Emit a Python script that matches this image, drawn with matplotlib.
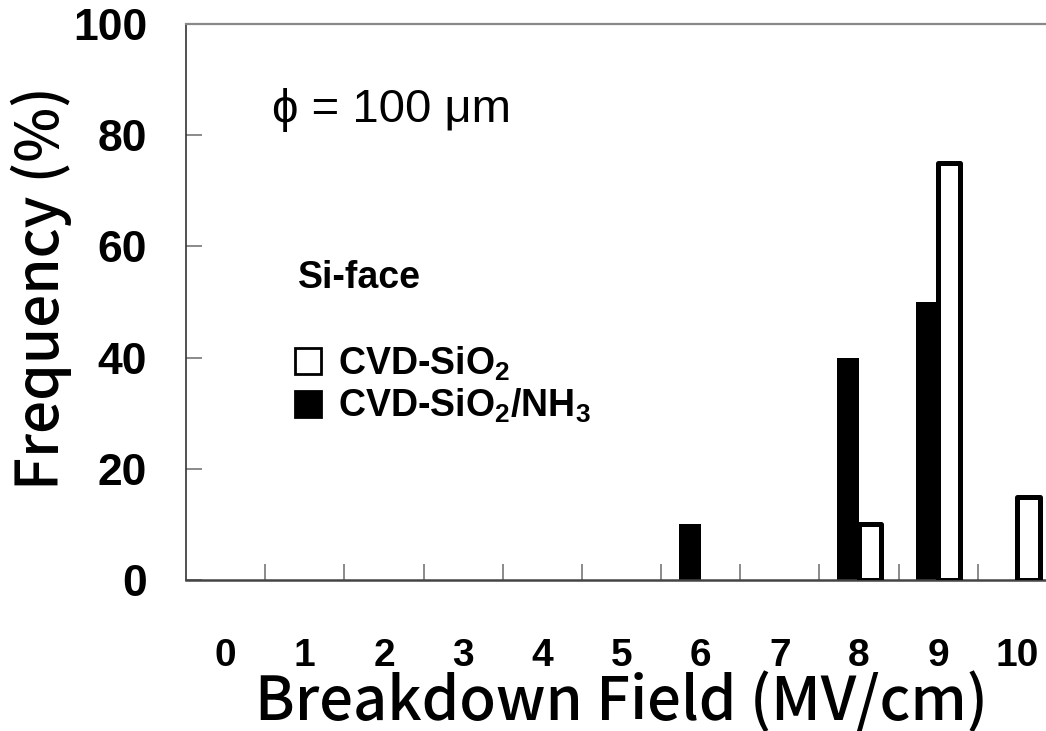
#!/usr/bin/env python3
"""Breakdown field distribution for CVD oxides on the Si-face."""
import numpy as np
import matplotlib
matplotlib.use("Agg")
import matplotlib.pyplot as plt
from matplotlib.patches import Patch

# field bins (MV/cm) and frequency (%) of each oxide
fields = ['0', '1', '2', '3', '4', '5', '6', '7', '8', '9', '10']
cvd_sio2 = [0, 0, 0, 0, 0, 0, 0, 0, 10, 75, 15]
cvd_sio2_nh3 = [0, 0, 0, 0, 0, 0, 10, 0, 40, 50, 0]
y_ticks = [0, 20, 40, 60, 80, 100]

plt.rcParams['mathtext.fontset'] = 'custom'
plt.rcParams['mathtext.rm'] = 'Liberation Sans:bold'
plt.rcParams['mathtext.bf'] = 'Liberation Sans:bold'

fig = plt.figure(figsize=(10.46, 7.31), dpi=100)
W, H = 1046, 731
# the plot area runs a little past the right edge of the picture
ax = fig.add_axes([186 / W, (H - 580) / H, 871 / W, 556 / H])

x = np.arange(len(fields))
bw = 0.28
# only draw the non-zero bars so the baseline stays clean
nh3 = np.array(cvd_sio2_nh3, dtype=float)
ox = np.array(cvd_sio2, dtype=float)
m1 = nh3 > 0
m2 = ox > 0
ax.bar(x[m1] - bw / 2, nh3[m1], bw, color='black', zorder=2)
bars = ax.bar(x[m2] + bw / 2, ox[m2], bw, facecolor='white',
              edgecolor='black', linewidth=3.6, zorder=3)
for b in bars:
    b.set_joinstyle('round')

ax.set_xlim(-0.5, len(fields) - 0.5)
ax.set_ylim(0, 100)

# category labels in the middle, tick marks on the bin boundaries
ax.set_xticks(x)
ax.set_xticklabels(fields, family='Liberation Sans',
                   fontweight='bold', fontsize=28)
ax.set_xticks(x[:-1] + 0.5, minor=True)
ax.tick_params(axis='x', which='major', length=0, pad=42)
ax.tick_params(axis='x', which='minor', direction='in', length=11.5,
               width=1.2, color='#777777')

ax.set_yticks(y_ticks)
ax.set_yticklabels([str(v) for v in y_ticks], family='Liberation Sans',
                   fontweight='bold', fontsize=32)
ax.tick_params(axis='y', direction='in', length=11.5, width=1.2,
               color='#777777', pad=28)

ax.spines['right'].set_visible(False)
ax.spines['top'].set_color('#888888')
ax.spines['top'].set_linewidth(1.6)
ax.spines['left'].set_color('#333333')
ax.spines['left'].set_linewidth(1.2)
ax.spines['bottom'].set_color('#444444')
ax.spines['bottom'].set_linewidth(1.8)

ax.set_xlabel('Breakdown Field (MV/cm)', family='Noto Sans CJK JP',
              fontweight='medium', fontsize=43)
ax.set_ylabel('Frequency (%)', family='Noto Sans CJK JP',
              fontweight='medium', fontsize=42)
ax.xaxis.set_label_coords(0.5, -0.164)
ax.yaxis.set_label_coords(-0.131, 0.525)

ax.text(0.586, 84.5, '\u03d5 = 100 \u03bcm',
        family=['Liberation Sans', 'DejaVu Sans'],
        fontsize=34, va='center', ha='left')
ax.text(0.914, 54.3, 'Si-face', family='Liberation Sans', fontweight='bold',
        fontsize=27, va='center', ha='left')

handles = [Patch(facecolor='white', edgecolor='black', linewidth=2),
           Patch(facecolor='black', edgecolor='black', linewidth=2)]
labels = ['CVD-SiO$_2$', 'CVD-SiO$_2$/NH$_3$']
ax.legend(handles, labels, loc='upper left', bbox_to_anchor=(0.125, 0.424),
          frameon=False, borderpad=0, borderaxespad=0,
          handlelength=0.7, handleheight=0.7, handletextpad=0.45,
          labelspacing=0.12,
          prop={'family': 'Liberation Sans', 'weight': 'bold', 'size': 27})

fig.savefig('out.png', dpi=100)
